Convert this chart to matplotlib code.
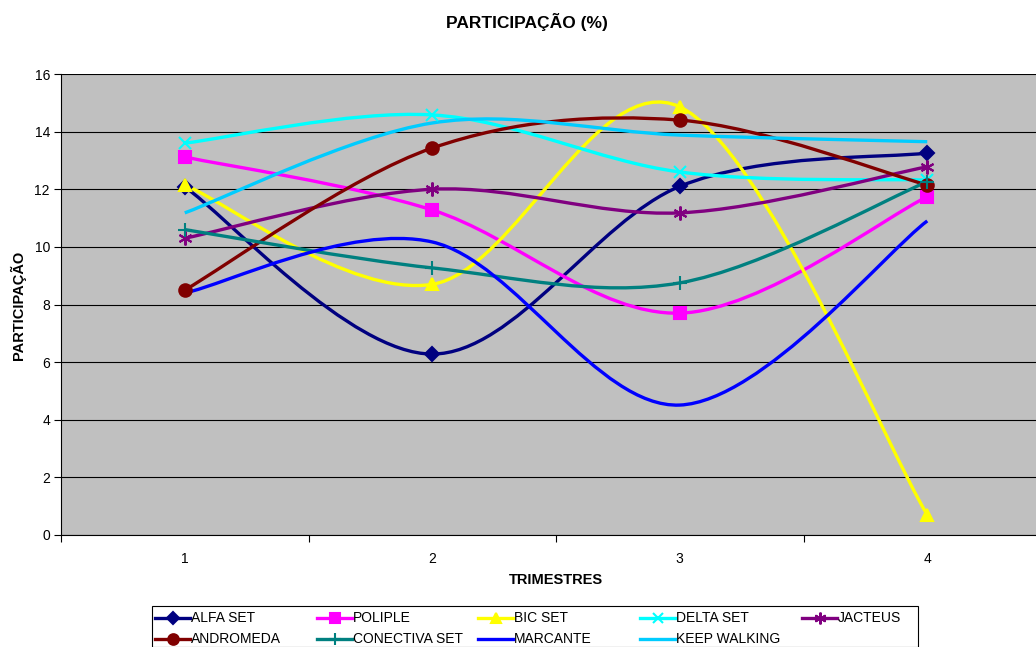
import numpy as np
import matplotlib
matplotlib.use('Agg')
import matplotlib.pyplot as plt
from matplotlib.path import Path
from matplotlib.patches import PathPatch, Rectangle
from matplotlib.lines import Line2D

plt.rcParams['font.family'] = ['Liberation Sans', 'DejaVu Sans']

trimestres = [1, 2, 3, 4]
series_names = ['ALFA SET', 'POLIPLE', 'BIC SET', 'DELTA SET', 'JACTEUS',
                'ANDROMEDA', 'CONECTIVA SET', 'MARCANTE', 'KEEP WALKING']
alfa_set = [12.08, 6.28, 12.1, 13.26]
poliple = [13.12, 11.28, 7.7, 11.74]
bic_set = [12.15, 8.7, 14.86, 0.7]
delta_set = [13.6, 14.58, 12.6, 12.32]
jacteus = [10.3, 12.0, 11.18, 12.78]
andromeda = [8.5, 13.43, 14.4, 12.15]
conectiva_set = [10.6, 9.27, 8.75, 12.26]
marcante = [8.4, 10.17, 4.51, 10.9]
keep_walking = [11.18, 14.3, 13.88, 13.65]

values = [alfa_set, poliple, bic_set, delta_set, jacteus,
          andromeda, conectiva_set, marcante, keep_walking]
colors = ['#000080', '#FF00FF', '#FFFF00', '#00FFFF', '#800080',
          '#800000', '#008080', '#0000FF', '#00CCFF']
markers = ['D', 's', '^', 'x', (6, 2, 0), 'o', '+', None, None]
msizes = [7, 8, 9, 9, 10, 9, 10, 0, 0]


def smooth_path(xs, ys):
    # excel style smoothed line: cubic bezier, catmull-rom control points
    p = np.column_stack([xs, ys]).astype(float)
    n = len(p)
    verts = [p[0]]
    codes = [Path.MOVETO]
    for i in range(n - 1):
        prev = p[i - 1] if i > 0 else p[i]
        nxt = p[i + 2] if i + 2 < n else p[i + 1]
        c1 = p[i] + (p[i + 1] - prev) / 6.0
        c2 = p[i + 1] - (nxt - p[i]) / 6.0
        verts += [c1, c2, p[i + 1]]
        codes += [Path.CURVE4] * 3
    return Path(verts, codes)


W, H = 1036, 647
fig = plt.figure(figsize=(W / 100, H / 100), dpi=100)
ax = fig.add_axes([61 / W, 1 - 535 / H, (1051 - 61) / W, (535 - 74) / H])
ax.set_facecolor('#C0C0C0')

for vals, col, mk, ms in zip(values, colors, markers, msizes):
    ax.add_patch(PathPatch(smooth_path(trimestres, vals), facecolor='none',
                           edgecolor=col, lw=2.4, capstyle='butt', zorder=3))
    if mk:
        ax.plot(trimestres, vals, linestyle='none', marker=mk, ms=ms, color=col,
                mec=col, mew=1.5, zorder=4)

ax.set_xlim(0.5, 4.5)
ax.set_ylim(0, 16)
ax.set_yticks(np.arange(0, 17, 2))
ax.yaxis.grid(True, color='black', lw=0.8)
ax.set_axisbelow(True)
ax.set_xticks([0.5, 1.5, 2.5, 3.5, 4.5])
ax.set_xticklabels([])
ax.set_xticks(trimestres, minor=True)
ax.set_xticklabels([str(t) for t in trimestres], minor=True)
ax.tick_params(axis='x', which='major', length=5, direction='out', color='black')
ax.tick_params(axis='x', which='minor', length=0, pad=12, labelsize=10)
ax.tick_params(axis='y', length=5, direction='out', labelsize=10, pad=3)
for s in ['top', 'right']:
    ax.spines[s].set_visible(False)
ax.spines['left'].set_color('black')
ax.spines['bottom'].set_color('black')

fig.text(527 / W, 1 - 22 / H, 'PARTICIPAÇÃO (%)', ha='center', va='center',
         fontsize=12.5, fontweight='bold')
fig.text(556 / W, 1 - 580 / H, 'TRIMESTRES', ha='center', va='center',
         fontsize=10.5, fontweight='bold')
fig.text(18 / W, 1 - 305 / H, 'PARTICIPAÇÃO', ha='center', va='center',
         rotation=90, fontsize=10.5, fontweight='bold')

# legend drawn by hand to get the excel column pitch
fig.patches.append(Rectangle((152 / W, 0), (918 - 152) / W, 1 - 606 / H,
                             transform=fig.transFigure, facecolor='white',
                             edgecolor='black', lw=0.8))
col_x = [155, 317, 478, 640, 802]
row_y = [618, 639]
for k, (name, col, mk, ms) in enumerate(zip(series_names, colors, markers, msizes)):
    x0 = col_x[k % 5]
    y0 = 1 - row_y[k // 5] / H
    fig.add_artist(Line2D([x0 / W, (x0 + 35) / W], [y0, y0], color=col, lw=2.4,
                          transform=fig.transFigure))
    if mk:
        fig.add_artist(Line2D([(x0 + 17.5) / W], [y0], marker=mk, ms=ms * 0.85,
                              color=col, mec=col, mew=1.5,
                              transform=fig.transFigure))
    fig.text((x0 + 36) / W, y0, name, ha='left', va='center', fontsize=10)

fig.savefig('out.png', dpi=100)
